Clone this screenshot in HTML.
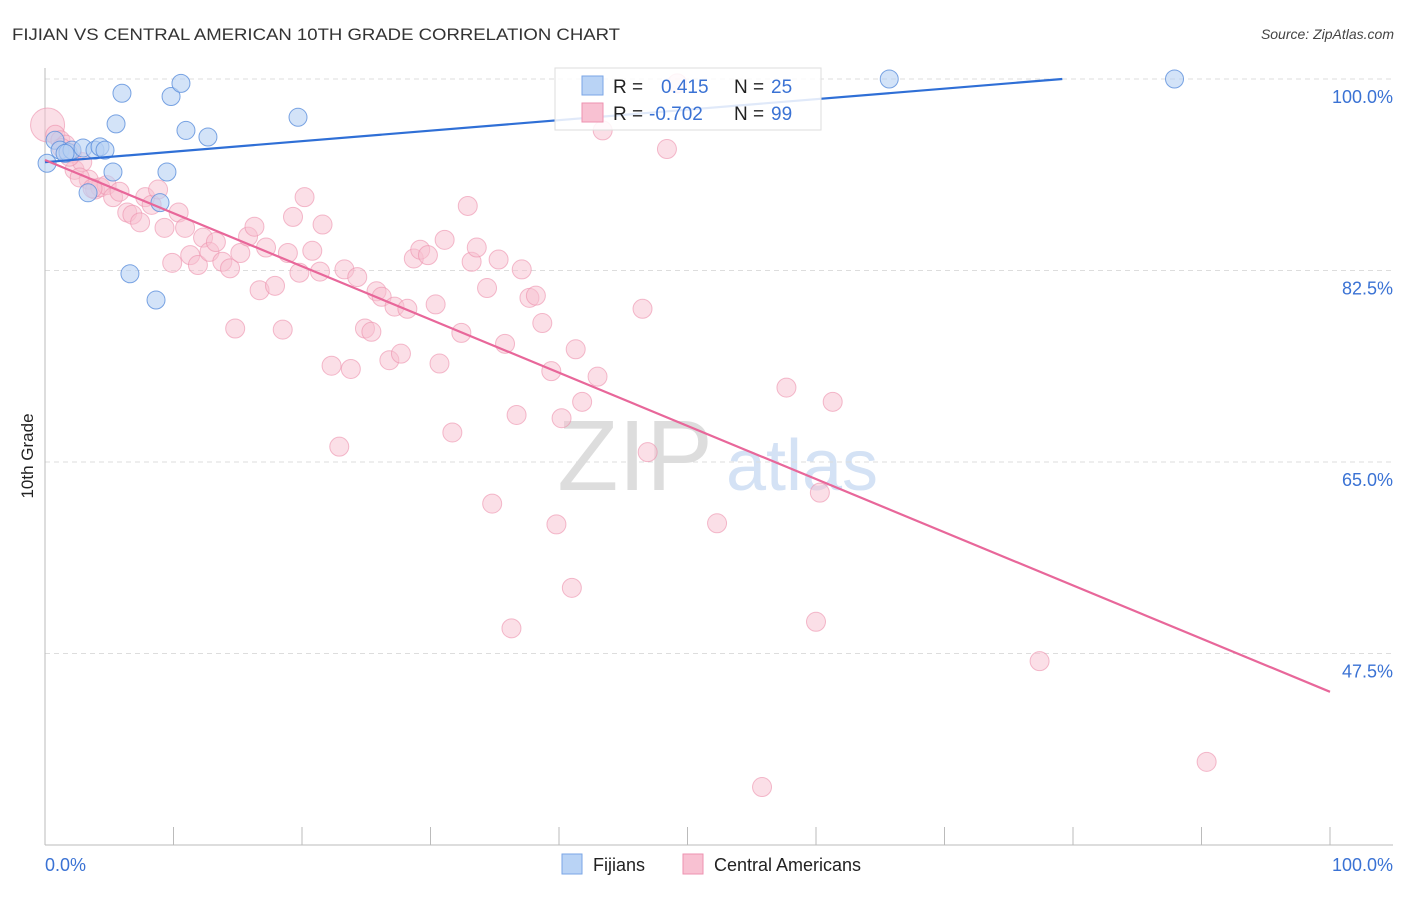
<!DOCTYPE html>
<html><head><meta charset="utf-8"><style>
body{margin:0;background:#fff;font-family:"Liberation Sans",sans-serif}
svg text{font-family:"Liberation Sans",sans-serif}
</style></head><body>
<svg id="chart" width="1406" height="892">
<text x="12" y="40" font-size="17" fill="#333" textLength="608" lengthAdjust="spacingAndGlyphs">FIJIAN VS CENTRAL AMERICAN 10TH GRADE CORRELATION CHART</text>
<text x="1394" y="39" font-size="14" fill="#444" font-style="italic" text-anchor="end">Source: ZipAtlas.com</text>
<text x="33" y="456" font-size="17" fill="#222" transform="rotate(-90 33 456)" text-anchor="middle">10th Grade</text>
<g>
<text x="635" y="490" font-size="100" fill="#ddd" font-family="Liberation Serif,serif" text-anchor="middle">ZIP</text>
<text x="802" y="490" font-size="72" fill="#d4e2f5" text-anchor="middle">atlas</text>
</g>
<g id="grid"></g>
<g id="axes"></g>
<g id="pink"></g>
<g id="blue"></g>
<g id="lines"></g>
<g>
<rect x="555" y="68" width="266" height="62" fill="#fff" fill-opacity="0.85" stroke="#ddd"/>
<rect x="582" y="76" width="21" height="19" fill="#b9d3f5" stroke="#7aa6e6"/>
<rect x="582" y="103" width="21" height="19" fill="#f8c1d2" stroke="#ee92b0"/>
<text x="613" y="93" font-size="19" fill="#222">R =</text><text x="661" y="93" font-size="19" fill="#3a72d4">0.415</text>
<text x="734" y="93" font-size="19" fill="#222">N =</text><text x="771" y="93" font-size="19" fill="#3a72d4">25</text>
<text x="613" y="120" font-size="19" fill="#222">R =</text><text x="649" y="120" font-size="19" fill="#3a72d4">-0.702</text>
<text x="734" y="120" font-size="19" fill="#222">N =</text><text x="771" y="120" font-size="19" fill="#3a72d4">99</text>
</g>
<g>
<rect x="562" y="854" width="20" height="20" fill="#b9d3f5" stroke="#7aa6e6"/>
<text x="593" y="871" font-size="18" fill="#222">Fijians</text>
<rect x="683" y="854" width="20" height="20" fill="#f8c1d2" stroke="#ee92b0"/>
<text x="714" y="871" font-size="18" fill="#222">Central Americans</text>
</g>
</svg>
<script>
const yTicks=[100,82.5,65,47.5];
const yTickLabels=["100.0%","82.5%","65.0%","47.5%"];
const xTickLabels=["0.0%","100.0%"];
const blueX=[0.16,0.78,1.17,1.79,2.1,2.96,3.89,4.28,4.67,5.29,5.53,5.99,6.61,8.64,8.95,9.49,9.81,10.58,10.97,12.68,19.69,65.7,87.9,3.35,1.56];
const blueY=[92.3,94.4,93.5,93.3,93.5,93.7,93.5,93.8,93.5,91.5,95.9,98.7,82.2,79.8,88.7,91.5,98.4,99.6,95.3,94.7,96.5,100,100,89.6,93.2];
const pinkX=[0.2,0.8,1.2,1.6,2.1,2.3,2.9,3.4,3.9,4.3,4.8,5.3,5.8,6.4,6.8,7.4,7.8,8.3,8.8,9.3,9.9,10.4,10.9,11.3,11.9,12.3,12.8,13.3,13.8,14.4,14.8,15.2,15.8,16.3,16.7,17.2,17.9,18.5,18.9,19.3,19.8,20.2,20.8,21.4,21.6,22.3,22.9,23.3,23.8,24.3,24.9,25.4,25.8,26.2,26.8,27.2,27.7,28.2,28.7,29.2,29.8,30.4,30.7,31.1,31.7,32.4,32.9,33.2,33.6,34.4,34.8,35.3,35.8,36.3,36.7,37.1,37.7,38.2,38.7,39.4,39.8,40.2,41.0,41.3,41.8,43.0,43.4,46.5,46.9,48.4,49.2,52.3,55.8,57.7,60.0,60.3,61.3,77.4,90.4,1.3,1.9,2.7,3.7];
const pinkY=[95.8,94.9,94.4,94.0,93.2,91.7,92.4,90.8,89.9,90.1,90.3,89.2,89.7,87.8,87.6,86.9,89.2,88.5,89.9,86.4,83.2,87.8,86.4,83.9,83.0,85.5,84.2,85.1,83.3,82.7,77.2,84.1,85.6,86.5,80.7,84.6,81.1,77.1,84.1,87.4,82.3,89.2,84.3,82.4,86.7,73.8,66.4,82.6,73.5,81.9,77.2,76.9,80.6,80.1,74.3,79.2,74.9,79.0,83.6,84.4,83.9,79.4,74.0,85.3,67.7,76.8,88.4,83.3,84.6,80.9,61.2,83.5,75.8,49.8,69.3,82.6,80.0,80.2,77.7,73.3,59.3,69.0,53.5,75.3,70.5,72.8,95.3,79.0,65.9,93.6,99.6,59.4,35.3,71.8,50.4,62.2,70.5,46.8,37.6,93.7,92.9,91.0,90.0];
const blueFit=[92.4,0.096];
const pinkFit=[92.6,-0.486];
const NS="http://www.w3.org/2000/svg";
const X=v=>45+v*12.85, Y=v=>79+(100-v)*10.943;
function mk(t,a,p){const e=document.createElementNS(NS,t);for(const k in a)e.setAttribute(k,a[k]);document.getElementById(p).appendChild(e);return e;}
yTicks.forEach((t,i)=>{
 const g=mk('line',{x1:45,x2:1393,y1:Y(t),y2:Y(t),stroke:'#ddd','stroke-dasharray':'5,4'},'grid');
 
 
 const l=mk('text',{x:1393,y:Y(t)+24,'font-size':18,fill:'#3a72d4','text-anchor':'end'},'grid');
 l.textContent=yTickLabels[i];
 
 
});
mk('line',{x1:45,x2:45,y1:68,y2:845,stroke:'#bbb'},'axes');
mk('line',{x1:45,x2:1393,y1:845,y2:845,stroke:'#bbb'},'axes');
for(let i=0;i<=10;i++){const t=mk('line',{x1:X(i*10),x2:X(i*10),y1:827,y2:845,stroke:'#bbb'},'axes');
 
 }
[[0,'start',45],[100,'end',1393]].forEach((d,i)=>{const t=mk('text',{x:d[2],y:871,'font-size':18,fill:'#3a72d4','text-anchor':d[1]},'axes');t.textContent=xTickLabels[i];
 
 });
pinkX.forEach((x,i)=>{const c=mk('circle',{cx:X(x),cy:Y(pinkY[i]),r:i==0?17:9.5,fill:'#f8bfd0','fill-opacity':0.5,stroke:'#ec8fac','stroke-opacity':0.6},'pink');
 
 });
blueX.forEach((x,i)=>{const c=mk('circle',{cx:X(x),cy:Y(blueY[i]),r:9,fill:'#b6d0f3','fill-opacity':0.6,stroke:'#5b8fdc','stroke-opacity':0.8},'blue');
 
 });
const bEnd=(100-blueFit[0])/blueFit[1];
const bl=mk('line',{x1:X(0),y1:Y(blueFit[0]),x2:X(bEnd),y2:Y(100),stroke:'#2f6fd6','stroke-width':2.2},'lines');


const pl=mk('line',{x1:X(0),y1:Y(pinkFit[0]),x2:X(100),y2:Y(pinkFit[0]+100*pinkFit[1]),stroke:'#e8679a','stroke-width':2.2},'lines');


</script>
</body></html>
